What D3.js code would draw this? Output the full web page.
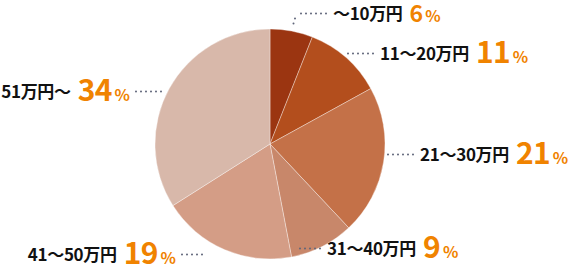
<!DOCTYPE html>
<html>
<head>
<meta charset="utf-8">
<script src="https://cdn.jsdelivr.net/npm/d3@7"></script>
<style>
  html, body { margin: 0; padding: 0; background: #fff; }
  svg { display: block; }
  text { font-family: "Noto Sans CJK JP", "Noto Sans", sans-serif; font-weight: bold; }
</style>
</head>
<body>
<svg id="chart" width="576" height="267"></svg>
<script>
// data
const categories = ["～10万円", "11～20万円", "21～30万円", "31～40万円", "41～50万円", "51万円～"];
const shares = [6, 11, 21, 9, 19, 34];
const sliceColors = ["#9b3511", "#b34e1d", "#c47148", "#c8876a", "#d49d86", "#d8b8aa"];

// label layout: text anchor point, side of the pie, leader length, size of the big number
const labelLayout = [
  { x: 333, y: 20, side: "right", dots: 30, tail: true, big: 23 },
  { x: 380, y: 60, side: "right", dots: 26, big: 30 },
  { x: 420, y: 161, side: "right", dots: 27, big: 30 },
  { x: 327, y: 255, side: "right", dots: 23, big: 30 },
  { x: 176, y: 261, side: "left", dots: 23, big: 30 },
  { x: 130, y: 98, side: "left", dots: 27, big: 30 },
];

const svg = d3.select("#chart");
const cx = 270;
const cy = 144;
const radius = 115;

const pie = d3.pie().sort(null).value((d) => d.share);
const arc = d3.arc().innerRadius(0).outerRadius(radius);

const rows = categories.map((name, i) => ({ name, share: shares[i], color: sliceColors[i], layout: labelLayout[i] }));

svg
  .append("g")
  .attr("transform", `translate(${cx},${cy})`)
  .selectAll("path")
  .data(pie(rows))
  .enter()
  .append("path")
  .attr("d", arc)
  .attr("fill", (d) => d.data.color)
  .attr("stroke", "rgba(255,255,255,0.6)")
  .attr("stroke-width", 0.6);

const dotStyle = (sel) =>
  sel
    .attr("stroke", "#5f6579")
    .attr("stroke-width", 2)
    .attr("stroke-linecap", "round")
    .attr("stroke-dasharray", "0,5");

const labels = svg.append("g").selectAll("g").data(rows).enter().append("g");

labels.each(function (d) {
  const g = d3.select(this);
  const L = d.layout;
  const text = g
    .append("text")
    .attr("x", L.x)
    .attr("y", L.y)
    .attr("text-anchor", L.side === "left" ? "end" : "start");
  text.append("tspan").attr("fill", "#111").attr("font-size", 17).attr("letter-spacing", -0.3).text(d.name);
  text
    .append("tspan")
    .attr("dx", 7)
    .attr("dy", L.big > 25 ? 2.5 : 1.5)
    .attr("fill", "#f08300")
    .attr("font-size", L.big)
    .attr("letter-spacing", -0.8)
    .text(d.share);
  text.append("tspan").attr("dx", 3).attr("fill", "#f08300").attr("font-size", 16).text("%");

  const dy = L.y - 6.5;
  if (L.side === "right") {
    const x1 = L.x - 7;
    g.append("line")
      .attr("x1", x1)
      .attr("x2", x1 - L.dots)
      .attr("y1", dy)
      .attr("y2", dy)
      .call(dotStyle);
    if (L.tail) {
      g.append("line")
        .attr("x1", x1 - L.dots - 1)
        .attr("x2", x1 - L.dots - 2.5)
        .attr("y1", dy + 5)
        .attr("y2", dy + 10)
        .call(dotStyle)
        .attr("stroke-dasharray", "0,5.2");
    }
  } else {
    const x1 = L.x + 6;
    g.append("line")
      .attr("x1", x1)
      .attr("x2", x1 + L.dots)
      .attr("y1", dy)
      .attr("y2", dy)
      .call(dotStyle);
  }
});
</script>
</body>
</html>
